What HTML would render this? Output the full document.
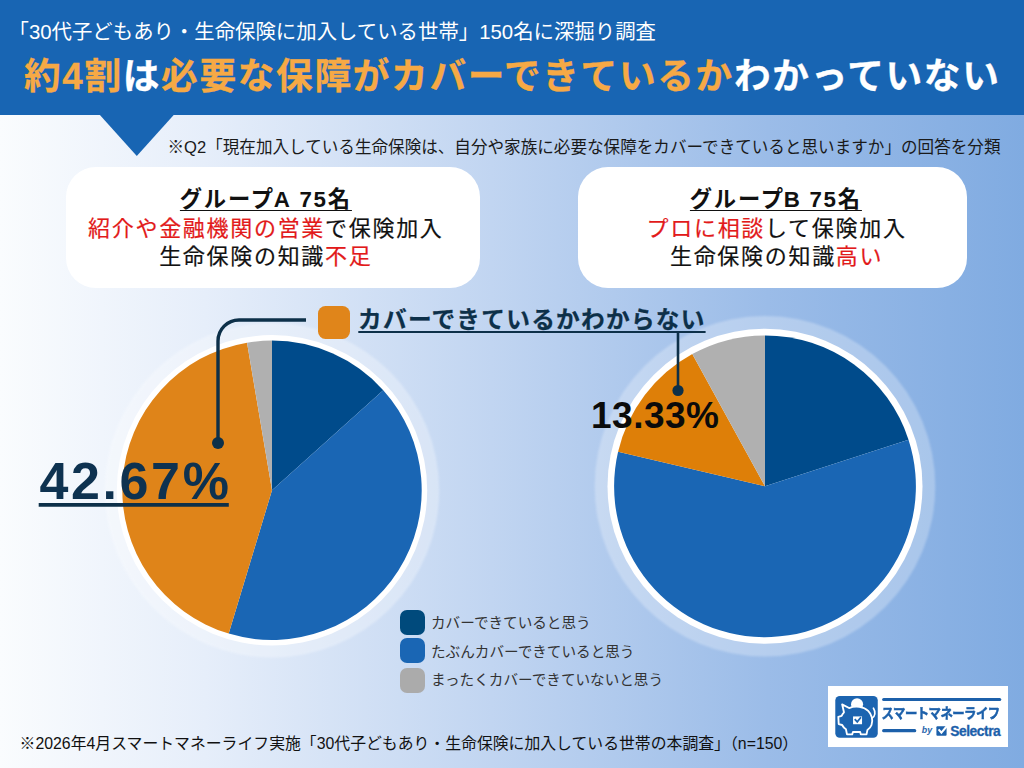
<!DOCTYPE html>
<html lang="ja">
<head>
<meta charset="utf-8">
<title>約4割は必要な保障がカバーできているかわかっていない</title>
<style>
html,body{margin:0;padding:0;}
body{width:1024px;height:768px;overflow:hidden;position:relative;
 font-family:"Liberation Sans","Noto Sans CJK JP",sans-serif;
 background:linear-gradient(90deg,#fafcfe 0%,#e6eefa 20%,#c1d5f1 48%,#9bbce8 75%,#80abe1 100%);}
.abs{position:absolute;white-space:nowrap;line-height:1;}
#hdr{position:absolute;left:0;top:0;width:1024px;height:114.6px;background:#1865b3;}
#sub{left:8.5px;top:21.5px;font-size:20.4px;color:#fff;}
#ttl{left:24px;top:58.6px;-webkit-text-stroke:0.3px currentColor;font-size:36.7px;letter-spacing:1.65px;font-weight:bold;color:#fff;}
#ttl b{color:#f6a945;font-weight:bold;}
#note{left:167.5px;top:140.2px;font-size:16.58px;color:#1a1a1a;}
.box{position:absolute;background:#fff;border-radius:30px;}
#boxA{left:65.5px;top:166.5px;width:414px;height:121px;}
#boxB{left:578px;top:166.5px;width:389px;height:121px;}
.box div{position:absolute;white-space:nowrap;line-height:1;color:#111;transform:translateX(-50%);}
#boxA div{left:200.3px;}
#boxB div{left:198.6px;}
#boxB .h{margin-left:-0.8px;}
.box .h{top:22.9px;height:20.2px;font-size:22.3px;letter-spacing:1.8px;font-weight:bold;border-bottom:1.9px solid #111;}
.box .l1{top:51.5px;font-size:22px;letter-spacing:1.7px;-webkit-text-stroke:0.2px currentColor;}
.box .l2{top:79.7px;font-size:22px;letter-spacing:1.7px;-webkit-text-stroke:0.2px currentColor;}
.la{margin-left:-1px;}
.gp{letter-spacing:0;font-size:22.3px;margin-right:1.5px;}
.red{color:#e21a1a;}
#lgsq{position:absolute;left:318px;top:305.8px;width:32.2px;height:33px;border-radius:7.5px;background:#e0851a;}
#lgt{left:358px;top:308.5px;font-size:23.7px;letter-spacing:1.25px;-webkit-text-stroke:0.25px #0d3049;font-weight:bold;color:#0d3049;}
#p1{left:39.5px;top:455px;font-size:52px;letter-spacing:2.6px;font-weight:bold;color:#0e3250;}
#p2{left:591px;top:397.2px;font-size:37px;font-weight:bold;color:#0b0b0b;letter-spacing:0.5px;}
.lg{position:absolute;width:25.5px;height:24.5px;border-radius:7px;left:399.7px;}
.lgl{left:431px;font-size:14.6px;color:#333;}
#foot{left:19.6px;top:736.4px;font-size:15.85px;color:#111;}
#logo{position:absolute;left:828.4px;top:686.4px;width:179.7px;height:60.6px;background:#fff;}
#lgname{left:881.6px;top:706.6px;font-size:12.4px;font-weight:bold;color:#1c60aa;letter-spacing:-0.55px;transform:scaleY(1.13);transform-origin:0 0;-webkit-text-stroke:0.45px #1c60aa;}
#lgby{left:921.8px;top:726.4px;font-size:8.9px;font-style:italic;font-weight:bold;color:#2a66ad;}
#lgsel{left:950.2px;top:725px;font-size:13.8px;font-weight:bold;color:#1c60aa;letter-spacing:-0.45px;-webkit-text-stroke:0.3px #1c60aa;}
</style>
</head>
<body>
<div id="hdr"></div>
<svg class="abs" style="left:0;top:0" width="1024" height="768" viewBox="0 0 1024 768">
<path d="M99 114L174.6 114L136.8 156Z" fill="#1865b3"/>
</svg>
<div id="sub" class="abs">「30代子どもあり・生命保険に加入している世帯」150名に深掘り調査</div>
<div id="ttl" class="abs"><b>約4割</b>は<b>必要な保障がカバーできているか</b>わかっていない</div>
<div id="note" class="abs">※Q2「現在加入している生命保険は、自分や家族に必要な保障をカバーできていると思いますか」の回答を分類</div>

<div id="boxA" class="box">
 <div class="h">グループ<span class="la">A</span><span class="gp">&nbsp;</span>75名</div>
 <div class="l1"><span class="red">紹介や金融機関の営業</span>で保険加入</div>
 <div class="l2">生命保険の知識<span class="red">不足</span></div>
</div>
<div id="boxB" class="box">
 <div class="h">グループ<span class="la">B</span><span class="gp">&nbsp;</span>75名</div>
 <div class="l1"><span class="red">プロに相談</span>して保険加入</div>
 <div class="l2">生命保険の知識<span class="red">高い</span></div>
</div>

<svg class="abs" style="left:0;top:0" width="1024" height="768" viewBox="0 0 1024 768">
<!--PIES-->
<defs><filter id="gs" x="-10%" y="-10%" width="120%" height="120%"><feGaussianBlur stdDeviation="1.2"/></filter></defs>
<circle cx="272" cy="490.3" r="167.2" fill="#fff" opacity="0.3" filter="url(#gs)"/>
<circle cx="272" cy="490.3" r="155.2" fill="#fff"/>
<path d="M272 490.3L272.00 340.60A149.7 149.7 0 0 1 383.25 390.13Z" fill="#004b8b"/>
<path d="M272 490.3L383.25 390.13A149.7 149.7 0 0 1 228.73 633.61Z" fill="#1a66b4"/>
<path d="M272 490.3L228.73 633.61A149.7 149.7 0 0 1 247.03 342.70Z" fill="#df8419"/>
<path d="M272 490.3L247.03 342.70A149.7 149.7 0 0 1 272.00 340.60Z" fill="#b0b0b0"/>
<circle cx="765" cy="486.3" r="170.3" fill="#fff" opacity="0.27" filter="url(#gs)"/>
<circle cx="765" cy="486.3" r="157.5" fill="#fff"/>
<path d="M765 486.3L765.00 335.40A150.9 150.9 0 0 1 908.51 439.67Z" fill="#004b8b"/>
<path d="M765 486.3L908.51 439.67A150.9 150.9 0 1 1 618.09 451.84Z" fill="#1a66b4"/>
<path d="M765 486.3L618.09 451.84A150.9 150.9 0 0 1 692.30 354.07Z" fill="#de7f08"/>
<path d="M765 486.3L692.30 354.07A150.9 150.9 0 0 1 765.00 335.40Z" fill="#b0b0b0"/>
<path d="M306 320H239a21 21 0 0 0 -21 21V443" fill="none" stroke="#0d3049" stroke-width="3.4"/>
<circle cx="218" cy="443" r="6" fill="#0d3049"/>
<path d="M358.3 332H705.6" stroke="#0d3049" stroke-width="2.1" fill="none"/>
<path d="M678 333V390" stroke="#0d3049" stroke-width="2.6" fill="none"/>
<circle cx="678" cy="390.5" r="5.6" fill="#0d3049"/>
<path d="M38.7 504.8H228.8" stroke="#0d3049" stroke-width="3.8" fill="none"/>
<!--/PIES-->
</svg>

<div id="lgsq"></div>
<div id="lgt" class="abs">カバーできているかわからない</div>
<div id="p1" class="abs">42.67%</div>
<div id="p2" class="abs">13.33%</div>

<div class="lg" style="top:610.3px;background:#004a7c"></div>
<div class="lg" style="top:638.4px;background:#1a66b4"></div>
<div class="lg" style="top:668px;background:#ababab"></div>
<div class="abs lgl" style="top:615.6px">カバーできていると思う</div>
<div class="abs lgl" style="top:644.8px">たぶんカバーできていると思う</div>
<div class="abs lgl" style="top:672.5px">まったくカバーできていないと思う</div>

<div id="foot" class="abs">※2026年4月スマートマネーライフ実施「30代子どもあり・生命保険に加入している世帯の本調査」（n=150）</div>
<div id="logo"></div>
<svg class="abs" style="left:826px;top:684px" width="100" height="66" viewBox="0 0 1024 676">
<rect x="95" y="122" width="435" height="428" rx="46" fill="#1c64b0"/>
<circle cx="318" cy="208" r="62" fill="#fff"/>
<path d="M165 208L236 246C300 222 385 228 432 275C470 312 484 372 466 420C456 445 440 462 424 472L415 516H356L350 492H276L268 516H215L204 464C188 452 174 438 165 420L130 410L126 336L160 326C166 312 174 300 184 290Z" fill="#1c64b0" stroke="#fff" stroke-width="19" stroke-linejoin="round"/>
<path d="M470 350C505 335 510 285 486 248" fill="none" stroke="#fff" stroke-width="17" stroke-linecap="round"/>
<rect x="277" y="332" width="92" height="80" fill="#fff"/>
<path d="M294 360L320 388L358 340" fill="none" stroke="#1c64b0" stroke-width="18"/>
</svg>
<svg class="abs" style="left:0;top:0" width="1024" height="768" viewBox="0 0 1024 768">
<path d="M883.7 699.5H999.7" stroke="#1c60aa" stroke-width="3.2" stroke-linecap="round" fill="none"/>
<path d="M883.7 730.7H914.7" stroke="#1c60aa" stroke-width="3.2" stroke-linecap="round" fill="none"/>
<rect x="936.4" y="726.2" width="10.2" height="9.6" rx="1" fill="#1c60aa"/>
<path d="M938.6 729.4L941.4 732.6L947 726" fill="none" stroke="#fff" stroke-width="2"/>
</svg>
<div id="lgname" class="abs">スマートマネーライフ</div>
<div id="lgby" class="abs">by</div>
<div id="lgsel" class="abs">Selectra</div>
</body>
</html>
